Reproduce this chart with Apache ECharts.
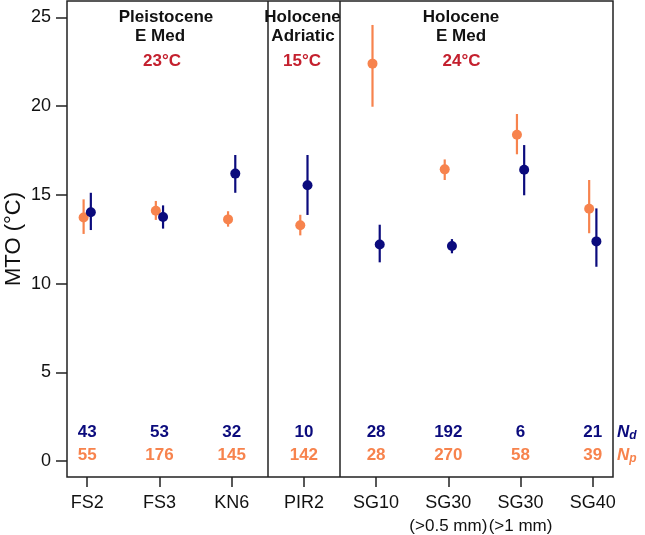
<!DOCTYPE html>
<html><head><meta charset="utf-8">
<script src="https://cdn.jsdelivr.net/npm/echarts@6/dist/echarts.min.js"></script>
<style>html,body{margin:0;padding:0;background:#fff}#c{width:645px;height:535px}</style>
</head><body><div id="c"></div>
<script>
// ---- data ----
const sites = ['FS2','FS3','KN6','PIR2','SG10','SG30','SG30','SG40'];
const siteNotes = ['','','','','','(>0.5 mm)','(>1 mm)',''];
const npMean = [13.73,14.11,13.62,13.29,22.40,16.44,18.39,14.22];
const npLow  = [12.80,13.59,13.21,12.72,19.97,15.84,17.29,12.84];
const npHigh = [14.75,14.66,14.08,13.88,24.58,17.00,19.56,15.84];
const ndMean = [14.02,13.75,16.20,15.54,12.21,12.12,16.42,12.38];
const ndLow  = [13.02,13.10,15.12,13.87,11.20,11.71,14.98,10.95];
const ndHigh = [15.12,14.41,17.25,17.25,13.32,12.51,17.81,14.24];
const ndCount = [43,53,32,10,28,192,6,21];
const npCount = [55,176,145,142,28,270,58,39];
const yTicks = [0,5,10,15,20,25];
const panelBreaks = [3.5,4.5];
const panelTitles = [['Pleistocene','E Med','23°C'],['Holocene','Adriatic','15°C'],['Holocene','E Med','24°C']];

// ---- style ----
const NAVY = '#0b0b7d', ORANGE = '#f7834d', RED = '#c4202e';
const FONT = 'Liberation Sans, Arial, sans-serif';
const OFF = 0.05;
const xs = sites.map((s,i)=>i+1);

function errRender(params, api){
  const x = api.value(0);
  const lo = api.coord([x, api.value(1)]);
  const hi = api.coord([x, api.value(2)]);
  return {type:'line', shape:{x1:lo[0],y1:lo[1],x2:hi[0],y2:hi[1]},
          style:{stroke: api.visual('color'), lineWidth:2.2}};
}

const chart = echarts.init(document.getElementById('c'), null, {renderer:'canvas'});

const titleX = [[166,160,162],[302.5,303,302],[461,461,461.5]];
const titleY = [17,36,61];
const graphics = [];
panelTitles.forEach((t,gi)=>{
  t.forEach((line,li)=>{
    graphics.push({type:'text', x:titleX[gi][li], y:titleY[li], z:10,
      style:{text:line, fill: li===2?RED:'#111', font:'bold 17px '+FONT, align:'center', verticalAlign:'middle'}});
  });
});
graphics.push({type:'text', x:617, y:432, style:{text:'{n|N}{s|d}', verticalAlign:'middle', align:'left',
  rich:{n:{fontStyle:'italic',fontWeight:'bold',fontSize:17,fill:NAVY,fontFamily:FONT},
        s:{fontStyle:'italic',fontWeight:'bold',fontSize:12,fill:NAVY,fontFamily:FONT,padding:[7,0,0,0]}}}});
graphics.push({type:'text', x:617, y:455, style:{text:'{n|N}{s|p}', verticalAlign:'middle', align:'left',
  rich:{n:{fontStyle:'italic',fontWeight:'bold',fontSize:17,fill:ORANGE,fontFamily:FONT},
        s:{fontStyle:'italic',fontWeight:'bold',fontSize:12,fill:ORANGE,fontFamily:FONT,padding:[7,0,0,0]}}}});

chart.setOption({
  animation:false,
  backgroundColor:'#fff',
  grid:{left:67, right:32, top:1, bottom:58, show:true, borderColor:'#222', borderWidth:1.5,
        backgroundColor:'transparent', containLabel:false, outerBoundsMode:'none'},
  xAxis:{type:'value', min:0.72, max:8.28, splitLine:{show:false},
    axisLine:{show:false, onZero:false},
    axisTick:{show:true, inside:false, length:10, customValues:xs, lineStyle:{color:'#222',width:1.5}},
    axisLabel:{show:true, customValues:xs, margin:15, fontSize:18, fontFamily:FONT, color:'#111', lineHeight:23,
      rich:{a:{fontSize:18, fontFamily:FONT, color:'#111', lineHeight:23},
            b:{fontSize:17, fontFamily:FONT, color:'#111', lineHeight:23}},
      formatter:v=>{const i=Math.round(v)-1; if(!sites[i]) return '';
        return siteNotes[i] ? '{a|'+sites[i]+'}\n{b|'+siteNotes[i]+'}' : '{a|'+sites[i]+'}';}}},
  yAxis:{type:'value', min:-0.9, max:25.93, splitLine:{show:false},
    name:'MTO (°C)', nameLocation:'middle', nameGap:42, nameRotate:90, nameMoveOverlap:false,
    nameTextStyle:{fontSize:22, fontFamily:FONT, color:'#111'},
    axisLine:{show:false, onZero:false},
    axisTick:{show:true, inside:false, length:11, customValues:yTicks, lineStyle:{color:'#222',width:1.5}},
    axisLabel:{show:true, customValues:yTicks, margin:16, fontSize:18, fontFamily:FONT, color:'#111'}},
  graphic:graphics,
  series:[
    {type:'custom', renderItem:errRender, itemStyle:{color:ORANGE}, z:2,
      data: xs.map((x,i)=>[x-OFF, npLow[i], npHigh[i]]),
      markLine:{silent:true, symbol:'none', label:{show:false},
        lineStyle:{color:'#222', width:1.5, type:'solid'},
        data: panelBreaks.map(b=>({xAxis:b}))}},
    {type:'scatter', symbol:'circle', symbolSize:10, itemStyle:{color:ORANGE, opacity:1}, z:3,
      data: xs.map((x,i)=>[x-OFF, npMean[i]])},
    {type:'custom', renderItem:errRender, itemStyle:{color:NAVY}, z:4,
      data: xs.map((x,i)=>[x+OFF, ndLow[i], ndHigh[i]])},
    {type:'scatter', symbol:'circle', symbolSize:10, itemStyle:{color:NAVY, opacity:1}, z:5,
      data: xs.map((x,i)=>[x+OFF, ndMean[i]])},
    {type:'scatter', symbolSize:0, z:6, silent:true, itemStyle:{opacity:1},
      label:{show:true, position:'inside', formatter:p=>String(ndCount[p.dataIndex]), color:NAVY, fontSize:17, fontWeight:'bold', fontFamily:FONT},
      data: xs.map(x=>[x, 1.6])},
    {type:'scatter', symbolSize:0, z:6, silent:true, itemStyle:{opacity:1},
      label:{show:true, position:'inside', formatter:p=>String(npCount[p.dataIndex]), color:ORANGE, fontSize:17, fontWeight:'bold', fontFamily:FONT},
      data: xs.map(x=>[x, 0.34])}
  ]
});
</script></body></html>
